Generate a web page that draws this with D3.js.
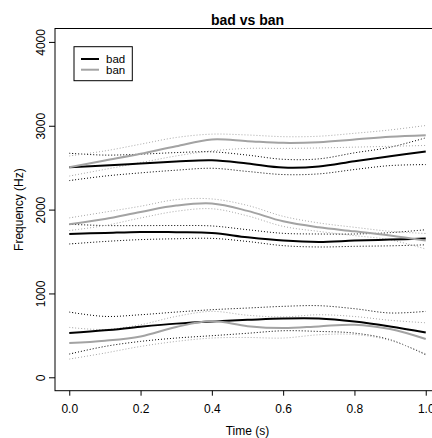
<!DOCTYPE html>
<html>
<head>
<meta charset="utf-8">
<script src="https://cdn.jsdelivr.net/npm/d3@7"></script>
<style>
  body { margin: 0; background: #fff; }
  svg { display: block; font-family: "Liberation Sans", Arial, sans-serif; }
</style>
</head>
<body>
<svg id="chart" width="432" height="438"></svg>
<script>
// ---- data ----
const time = [0, 0.1, 0.2, 0.3, 0.4, 0.5, 0.6, 0.7, 0.8, 0.9, 1.0];

const badF1      = [527, 560, 603, 640, 666, 685, 702, 702, 666, 607, 535];
const badF1Upper = [778, 726, 746, 778, 806, 826, 846, 854, 818, 767, 786];
const badF1Lower = [277, 368, 428, 468, 496, 525, 555, 547, 527, 448, 269];
const badF2      = [1710, 1722, 1734, 1730, 1722, 1670, 1630, 1614, 1630, 1642, 1654];
const badF2Upper = [1825, 1810, 1809, 1810, 1805, 1760, 1717, 1709, 1709, 1725, 1760];
const badF2Lower = [1590, 1620, 1642, 1652, 1657, 1620, 1570, 1554, 1562, 1568, 1580];
const badF3      = [2505, 2525, 2549, 2573, 2589, 2550, 2501, 2513, 2577, 2636, 2693];
const badF3Upper = [2672, 2650, 2661, 2680, 2689, 2650, 2600, 2605, 2677, 2744, 2856];
const badF3Lower = [2346, 2400, 2438, 2470, 2493, 2455, 2418, 2426, 2478, 2525, 2537];

const banF1      = [408, 436, 487, 600, 670, 610, 587, 607, 627, 575, 456];
const banF1Upper = [595, 570, 627, 726, 786, 740, 720, 746, 725, 680, 650];
const banF1Lower = [217, 289, 368, 428, 468, 475, 468, 507, 510, 440, 280];
const banF2      = [1825, 1889, 1972, 2048, 2072, 1985, 1860, 1789, 1741, 1690, 1630];
const banF2Upper = [1901, 1970, 2040, 2119, 2127, 2050, 1920, 1841, 1789, 1741, 1715];
const banF2Lower = [1750, 1810, 1900, 1980, 2010, 1925, 1800, 1740, 1690, 1640, 1530];
const banF3      = [2505, 2585, 2665, 2756, 2836, 2816, 2796, 2804, 2836, 2868, 2887];
const banF3Upper = [2640, 2700, 2780, 2860, 2900, 2890, 2870, 2875, 2910, 2950, 3003];
const banF3Lower = [2400, 2480, 2560, 2640, 2700, 2730, 2730, 2735, 2745, 2755, 2765];

const xTicks = [0, 0.2, 0.4, 0.6, 0.8, 1.0];
const yTicks = [0, 1000, 2000, 3000, 4000];
const legendLabels = ["bad", "ban"];
const titleText = "bad vs ban";
const xLabel = "Time (s)";
const yLabel = "Frequency (Hz)";

// ---- layout ----
const svg = d3.select("#chart");
const pL = 55, pR = 440, pT = 28.5, pB = 390.7;
const x = d3.scaleLinear().domain([-0.04, 1.04]).range([pL, pR]);
const y = d3.scaleLinear().domain([-160, 4160]).range([pB, pT]);

svg.append("defs").append("clipPath").attr("id", "clip")
  .append("rect").attr("x", pL).attr("y", pT).attr("width", pR - pL).attr("height", pB - pT);

const line = d3.line()
  .x((d, i) => x(time[i]))
  .y(d => y(d))
  .curve(d3.curveCatmullRom.alpha(0.5));

const plot = svg.append("g").attr("clip-path", "url(#clip)");

const black = "#000000", gray = "#a3a3a3", grayDot = "#a8a8a8";

const series = [
  { v: badF1Upper, c: black, w: 1, dash: "1,2" },
  { v: badF1Lower, c: black, w: 1, dash: "1,2" },
  { v: badF2Upper, c: black, w: 1, dash: "1,2" },
  { v: badF2Lower, c: black, w: 1, dash: "1,2" },
  { v: badF3Upper, c: black, w: 1, dash: "1,2" },
  { v: badF3Lower, c: black, w: 1, dash: "1,2" },
  { v: banF1Upper, c: grayDot, w: 1, dash: "1,2" },
  { v: banF1Lower, c: grayDot, w: 1, dash: "1,2" },
  { v: banF2Upper, c: grayDot, w: 1, dash: "1,2" },
  { v: banF2Lower, c: grayDot, w: 1, dash: "1,2" },
  { v: banF3Upper, c: grayDot, w: 1, dash: "1,2" },
  { v: banF3Lower, c: grayDot, w: 1, dash: "1,2" },
  { v: badF1, c: black, w: 2, dash: null },
  { v: badF2, c: black, w: 2, dash: null },
  { v: badF3, c: black, w: 2, dash: null },
  { v: banF1, c: gray, w: 2, dash: null },
  { v: banF2, c: gray, w: 2, dash: null },
  { v: banF3, c: gray, w: 2, dash: null },
];

series.forEach(s => {
  plot.append("path")
    .attr("d", line(s.v))
    .attr("fill", "none")
    .attr("stroke", s.c)
    .attr("stroke-width", s.w)
    .attr("stroke-dasharray", s.dash);
});

// ---- box ----
svg.append("rect")
  .attr("x", pL).attr("y", pT)
  .attr("width", pR - pL).attr("height", pB - pT)
  .attr("fill", "none").attr("stroke", "#000").attr("stroke-width", 1);

// ---- axes ----
const xAxis = svg.append("g").attr("transform", `translate(0,${pB})`)
  .call(d3.axisBottom(x).tickValues(xTicks).tickSize(5).tickSizeOuter(0).tickFormat(d3.format(".1f")));
xAxis.select(".domain").remove();
xAxis.selectAll("text").attr("y", 22.3).attr("dy", 0)
  .attr("font-size", 12).attr("fill", "#000").attr("font-family", "Liberation Sans, Arial, sans-serif");

const yAxis = svg.append("g").attr("transform", `translate(${pL},0)`)
  .call(d3.axisLeft(y).tickValues(yTicks).tickSize(6).tickSizeOuter(0).tickFormat(d3.format("d")));
yAxis.select(".domain").remove();
yAxis.selectAll("text")
  .attr("x", 0).attr("y", 0).attr("dy", 0)
  .attr("text-anchor", "middle")
  .attr("transform", "translate(-10,0) rotate(-90)")
  .attr("font-size", 12).attr("fill", "#000").attr("font-family", "Liberation Sans, Arial, sans-serif");

// ---- titles ----
svg.append("text").attr("x", (pL + pR) / 2).attr("y", 25)
  .attr("text-anchor", "middle").attr("font-weight", "bold").attr("font-size", 14)
  .text(titleText);

svg.append("text").attr("x", (pL + pR) / 2).attr("y", 435)
  .attr("text-anchor", "middle").attr("font-size", 12)
  .text(xLabel);

svg.append("text")
  .attr("transform", `translate(23,${(pT + pB) / 2}) rotate(-90)`)
  .attr("text-anchor", "middle").attr("font-size", 12)
  .text(yLabel);

// ---- legend ----
const lg = svg.append("g");
lg.append("rect").attr("x", 74).attr("y", 46.7).attr("width", 58.3).attr("height", 34)
  .attr("fill", "#fff").attr("stroke", "#000").attr("stroke-width", 1);
const legendColors = [black, gray];
legendLabels.forEach((lab, i) => {
  const yy = 59 + i * 10.7;
  lg.append("line").attr("x1", 81).attr("x2", 99).attr("y1", yy).attr("y2", yy)
    .attr("stroke", legendColors[i]).attr("stroke-width", 2);
  lg.append("text").attr("x", 106).attr("y", yy + 4.2).attr("font-size", 11.5).text(lab);
});
</script>
</body>
</html>
